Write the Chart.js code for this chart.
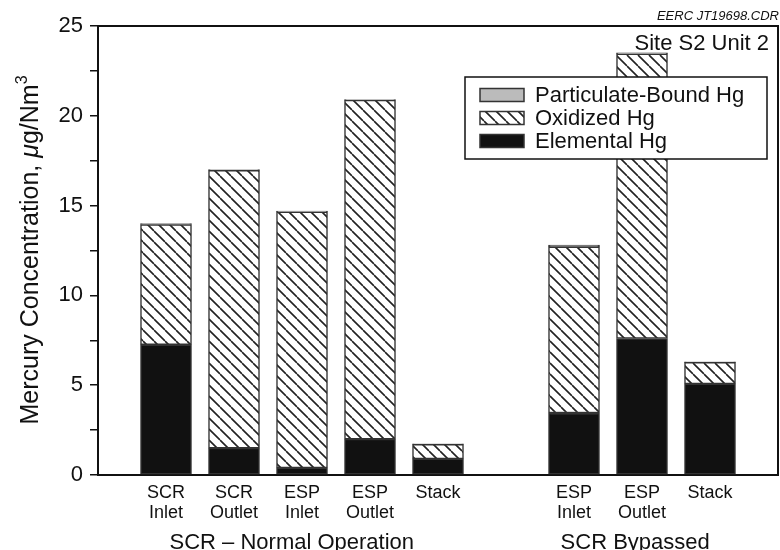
<!DOCTYPE html>
<html>
<head>
<meta charset="utf-8">
<script src="https://cdn.jsdelivr.net/npm/chart.js@4/dist/chart.umd.min.js"></script>
<style>html,body{margin:0;padding:0;background:#fff;}</style>
</head>
<body>
<canvas id="hg" width="780" height="550"></canvas>
<script>
// bar labels (multi-line) and where they sit on the x axis (5 is the gap between the two groups)
const categories = [['SCR', 'Inlet'], ['SCR', 'Outlet'], ['ESP', 'Inlet'], ['ESP', 'Outlet'], ['Stack'],
                    ['ESP', 'Inlet'], ['ESP', 'Outlet'], ['Stack']];
const positions = [0, 1, 2, 3, 4, 6, 7, 8];
const elemental   = [7.25, 1.5, 0.4, 2.0, 0.9, 3.45, 7.6, 5.07];
const oxidized    = [6.7, 15.47, 14.25, 18.87, 0.81, 9.25, 15.85, 1.2];
const particulate = [0.05, 0.03, 0.05, 0.03, 0.02, 0.1, 0.05, 0.03];
const yTicks = [0, 5, 10, 15, 20, 25];
const groups = ['SCR \u2013 Normal Operation', 'SCR Bypassed'];
const seriesNames = ['Particulate-Bound Hg', 'Oxidized Hg', 'Elemental Hg'];

const FONT = '"Liberation Sans", Arial, Helvetica, sans-serif';
Chart.defaults.font.family = FONT;
Chart.defaults.color = '#111';

// diagonal hatch, lines running top-left to bottom-right
function makeHatch() {
  const s = 11;
  const c = document.createElement('canvas');
  c.width = c.height = s;
  const g = c.getContext('2d');
  g.fillStyle = '#fff';
  g.fillRect(0, 0, s, s);
  g.strokeStyle = '#222';
  g.lineWidth = 1.6;
  g.beginPath();
  for (const k of [-s, 0, s]) {
    g.moveTo(k, 0);
    g.lineTo(k + s, s);
  }
  g.stroke();
  return g.createPattern(c, 'repeat');
}
const hatch = makeHatch();

function pts(arr) {
  return arr.map((v, i) => ({x: positions[i], y: v}));
}

const barStyle = {borderColor: '#333', borderWidth: 1.5, borderSkipped: false, barThickness: 51};

const extras = {
  id: 'extras',
  afterDraw(chart) {
    const ctx = chart.ctx;
    const a = chart.chartArea;
    const xs = chart.scales.x;
    ctx.save();

    // frame top and right
    ctx.strokeStyle = '#111';
    ctx.lineWidth = 2;
    ctx.beginPath();
    ctx.moveTo(a.left, a.top);
    ctx.lineTo(a.right, a.top);
    ctx.lineTo(a.right, a.bottom);
    ctx.stroke();

    // legend box
    const lx = 465, ly = 77, lw = 302, lh = 82;
    ctx.fillStyle = '#fff';
    ctx.fillRect(lx, ly, lw, lh);
    ctx.lineWidth = 1.5;
    ctx.strokeRect(lx, ly, lw, lh);
    const fills = ['#bbb', hatch, '#111'];
    ctx.font = '22px ' + FONT;
    ctx.textBaseline = 'middle';
    ctx.textAlign = 'left';
    seriesNames.forEach((name, i) => {
      const cy = 95 + i * 23;
      ctx.fillStyle = fills[i];
      ctx.fillRect(480, cy - 6.5, 44, 13);
      ctx.strokeStyle = '#333';
      ctx.lineWidth = 1.5;
      ctx.strokeRect(480, cy - 6.5, 44, 13);
      ctx.fillStyle = '#111';
      ctx.fillText(name, 535, cy + 1);
    });

    // corner texts
    ctx.textBaseline = 'alphabetic';
    ctx.textAlign = 'right';
    ctx.font = '22px ' + FONT;
    ctx.fillText('Site S2 Unit 2', 769, 50);
    ctx.font = 'italic 13px ' + FONT;
    ctx.fillText('EERC JT19698.CDR', 779, 20);

    // group labels under the bars
    ctx.textAlign = 'center';
    ctx.font = '22px ' + FONT;
    ctx.fillText(groups[0], xs.getPixelForValue(1.85), 549);
    ctx.fillText(groups[1], xs.getPixelForValue(6.9), 549);

    // y axis title with italic mu and superscript 3
    ctx.translate(38, 250);
    ctx.rotate(-Math.PI / 2);
    ctx.textAlign = 'left';
    const parts = [
      ['Mercury Concentration, ', '25px ' + FONT, 0],
      ['\u03bc', 'italic 25px ' + FONT, 0],
      ['g/Nm', '25px ' + FONT, 0],
      ['3', '16px ' + FONT, -11]
    ];
    let w = 0;
    parts.forEach(p => { ctx.font = p[1]; w += ctx.measureText(p[0]).width; });
    let x = -w / 2;
    parts.forEach(p => {
      ctx.font = p[1];
      ctx.fillText(p[0], x, p[2]);
      x += ctx.measureText(p[0]).width;
    });
    ctx.restore();
  }
};

new Chart(document.getElementById('hg'), {
  type: 'bar',
  data: {
    datasets: [
      {label: seriesNames[2], data: pts(elemental), backgroundColor: '#111', ...barStyle},
      {label: seriesNames[1], data: pts(oxidized), backgroundColor: hatch, ...barStyle},
      {label: seriesNames[0], data: pts(particulate), backgroundColor: '#bbb', ...barStyle}
    ]
  },
  options: {
    responsive: false,
    animation: false,
    layout: {padding: {top: 26, right: 2, left: 0, bottom: 0}},
    plugins: {
      legend: {display: false},
      tooltip: {enabled: false}
    },
    scales: {
      x: {
        type: 'linear',
        stacked: true,
        offset: false,
        min: -1,
        max: 9,
        afterBuildTicks: s => { s.ticks = positions.map(v => ({value: v})); },
        afterFit: s => { s.height = 75; },
        grid: {display: false, drawTicks: false},
        border: {display: true, color: '#111', width: 2},
        ticks: {
          padding: 8,
          font: {size: 18, lineHeight: 1.12},
          color: '#111',
          maxRotation: 0,
          callback: v => categories[positions.indexOf(v)]
        }
      },
      y: {
        stacked: true,
        min: 0,
        max: 25,
        afterBuildTicks: s => {
          const t = [];
          yTicks.forEach((v, i) => {
            t.push({value: v});
            if (i < yTicks.length - 1) t.push({value: (v + yTicks[i + 1]) / 2});
          });
          s.ticks = t;
        },
        afterFit: s => { s.width = 98; },
        grid: {drawOnChartArea: false, drawTicks: true, tickLength: 8, color: '#111', lineWidth: 1.5},
        border: {display: true, color: '#111', width: 2},
        ticks: {
          padding: 7,
          font: {size: 22},
          color: '#111',
          callback: v => (yTicks.includes(v) ? v : '')
        }
      }
    }
  },
  plugins: [extras]
});
</script>
</body>
</html>
